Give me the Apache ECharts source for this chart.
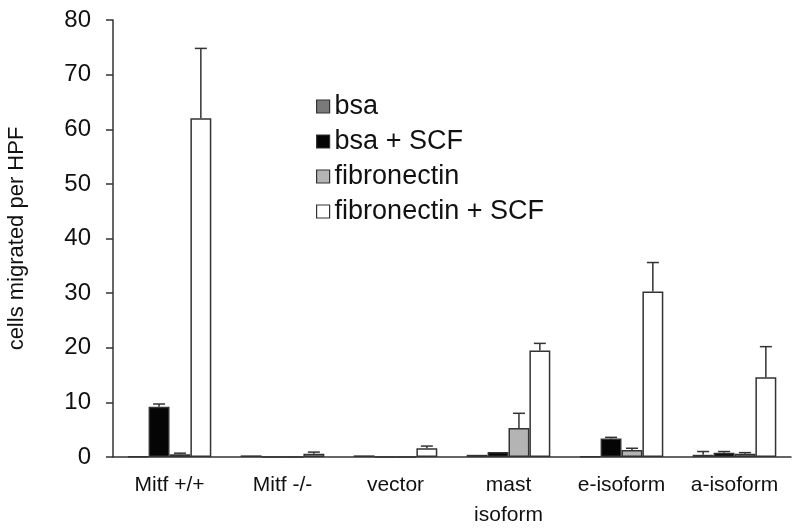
<!DOCTYPE html>
<html><head><meta charset="utf-8">
<script src="https://cdn.jsdelivr.net/npm/echarts@6/dist/echarts.min.js"></script>
<style>html,body{margin:0;padding:0;background:#fff}#c{width:800px;height:530px}</style>
</head><body><div id="c"></div>
<script>
var categories = ['Mitf +/+', 'Mitf -/-', 'vector', 'mast\nisoform', 'e-isoform', 'a-isoform'];
var seriesNames = ['bsa', 'bsa + SCF', 'fibronectin', 'fibronectin + SCF'];
var bsa = [0.1, 0.3, 0.3, 0.4, 0.1, 0.4];
var bsaSCF = [9.2, 0, 0, 0.9, 3.4, 0.8];
var fib = [0.5, 0, 0, 5.3, 1.3, 0.6];
var fibSCF = [62, 0.6, 1.6, 19.5, 30.3, 14.6];
var bsaErr = [0, 0, 0, 0, 0, 0.6];
var bsaSCFErr = [0.5, 0, 0, 0, 0.2, 0.2];
var fibErr = [0.2, 0, 0, 2.7, 0.3, 0.2];
var fibSCFErr = [12.8, 0.3, 0.4, 1.3, 5.3, 5.6];
var yTicks = [0, 10, 20, 30, 40, 50, 60, 70, 80];

var values = [bsa, bsaSCF, fib, fibSCF];
var errors = [bsaErr, bsaSCFErr, fibErr, fibSCFErr];
var colors = ['#7a7a7a', '#050505', '#b4b4b4', '#ffffff'];
var catGap = 0.26;

var chart = echarts.init(document.getElementById('c'));
var series = [];
seriesNames.forEach(function (n, i) {
  series.push({
    name: n, type: 'bar', data: values[i],
    barGap: '0%', barCategoryGap: (catGap * 100) + '%',
    itemStyle: { color: colors[i], borderColor: '#333', borderWidth: 1.5 },
    emphasis: { disabled: true }
  });
});
seriesNames.forEach(function (n, i) {
  series.push({
    type: 'custom', silent: true, z: 5,
    data: values[i].map(function (v, k) { return [k, v, v + errors[i][k]]; }),
    renderItem: function (params, api) {
      var k = api.value(0), v = api.value(1), t = api.value(2);
      if (t - v <= 0) return null;
      var band = api.size([1, 0])[0];
      var bw = band * (1 - catGap) / 4;
      var base = api.coord([k, v]);
      var top = api.coord([k, t]);
      var x = base[0] + (i - 1.5) * bw;
      var style = { stroke: '#333', lineWidth: 1.5 };
      return { type: 'group', children: [
        { type: 'line', shape: { x1: x, y1: base[1], x2: x, y2: top[1] }, style: style },
        { type: 'line', shape: { x1: x - 6, y1: top[1], x2: x + 6, y2: top[1] }, style: style }
      ]};
    }
  });
});

chart.setOption({
  animation: false,
  textStyle: { fontFamily: 'Liberation Sans, Arial, sans-serif' },
  grid: { left: 113, right: 9, top: 20, bottom: 73, containLabel: false, outerBoundsMode: 'none' },
  legend: {
    data: seriesNames.map(function (n, i) { return { name: n, itemStyle: { color: colors[i], borderColor: '#333', borderWidth: 1.2 } }; }),
    orient: 'vertical', left: 311, top: 88,
    itemWidth: 13, itemHeight: 13, itemGap: 8, icon: 'rect',
    textStyle: { fontSize: 27, color: '#111', fontFamily: 'Liberation Sans, Arial, sans-serif' }
  },
  xAxis: {
    type: 'category', data: categories,
    axisLine: { lineStyle: { color: '#333', width: 1.5 } },
    axisTick: { length: 7, lineStyle: { color: '#333', width: 1.5 } },
    axisLabel: { fontSize: 21, color: '#111', lineHeight: 30, margin: 13, interval: 0 }
  },
  yAxis: {
    type: 'value', min: yTicks[0], max: yTicks[yTicks.length - 1], interval: 10,
    name: 'cells migrated per HPF', nameLocation: 'middle', nameGap: 85,
    nameTextStyle: { fontSize: 22, color: '#111' },
    axisLine: { show: true, lineStyle: { color: '#333', width: 1.5 } },
    axisTick: { show: true, length: 7, lineStyle: { color: '#333', width: 1.5 } },
    splitLine: { show: false },
    axisLabel: { fontSize: 24, color: '#111', margin: 22 }
  },
  series: series
});
</script></body></html>
